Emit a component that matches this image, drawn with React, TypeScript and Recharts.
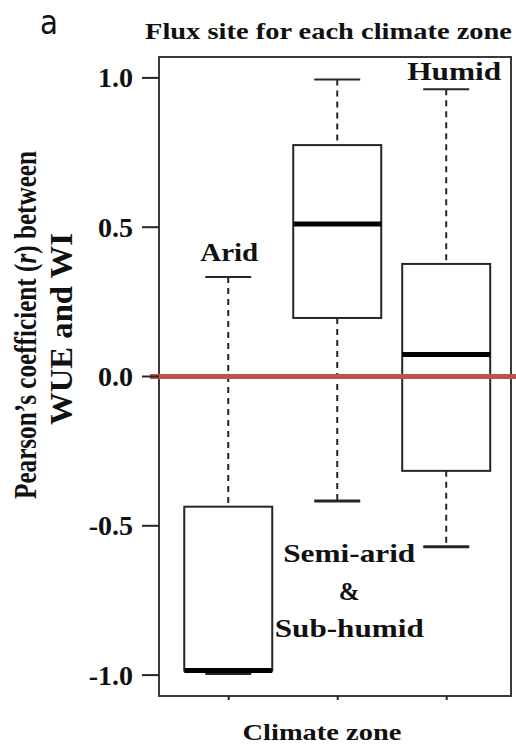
import {
  ComposedChart,
  Bar,
  XAxis,
  YAxis,
  ReferenceLine,
  ReferenceArea,
  Customized,
} from 'recharts';

// Pearson's r between WUE and WI per climate zone (box-and-whisker summary)
const zones = ['Arid', 'Semi-arid & Sub-humid', 'Humid'];
const zonePos = [1, 2, 3];
const whiskerLow = [-0.995, -0.417, -0.57];
const quartile1 = [-0.985, 0.196, -0.316];
const medians = [-0.985, 0.511, 0.074];
const quartile3 = [-0.436, 0.775, 0.377];
const whiskerHigh = [0.333, 0.995, 0.962];
const yTicks = [-1, -0.5, 0, 0.5, 1];

const X_DOMAIN: [number, number] = [0.36, 3.59];
const Y_DOMAIN: [number, number] = [-1.07, 1.07];

const SERIF = "'Liberation Serif', 'Times New Roman', serif";
const INK = '#262626';

const data = zones.map((zone, i) => ({
  zone,
  pos: zonePos[i],
  range: [whiskerLow[i], whiskerHigh[i]],
  low: whiskerLow[i],
  q1: quartile1[i],
  median: medians[i],
  q3: quartile3[i],
  high: whiskerHigh[i],
}));

// zone annotations, placed relative to a whisker end of each box
const zoneLabels = [
  { anchor: 'high', dx: 1, dy: -16, lines: ['Arid'], widths: [58] },
  { anchor: 'low', dx: 12, dy: 61, lines: ['Semi-arid', '&', 'Sub-humid'], widths: [132, 0, 149] },
  { anchor: 'high', dx: 8, dy: -9, lines: ['Humid'], widths: [94] },
];

function BoxShape(props: any) {
  const { x, y, width, height, payload, index } = props;
  const cx = x + width / 2;
  const topPx = Math.min(y, y + height);
  const botPx = Math.max(y, y + height);
  const span = payload.high - payload.low;
  const toPx = (v: number) => topPx + ((payload.high - v) / span) * (botPx - topPx);
  const boxW = 88;
  const capW = 46;
  const yHigh = toPx(payload.high);
  const yLow = toPx(payload.low);
  const yQ3 = toPx(payload.q3);
  const yQ1 = toPx(payload.q1);
  const yMed = toPx(payload.median);
  const lab = zoneLabels[index];
  const base = lab.anchor === 'high' ? yHigh : yLow;
  return (
    <g>
      <line x1={cx} x2={cx} y1={yHigh} y2={yQ3} stroke={INK} strokeWidth={2} strokeDasharray="6 5" />
      <line x1={cx} x2={cx} y1={yQ1} y2={yLow} stroke={INK} strokeWidth={2} strokeDasharray="6 5" />
      <line x1={cx - capW / 2} x2={cx + capW / 2} y1={yHigh} y2={yHigh} stroke={INK} strokeWidth={2} />
      <line x1={cx - capW / 2} x2={cx + capW / 2} y1={yLow} y2={yLow} stroke={INK} strokeWidth={3} />
      <rect
        x={cx - boxW / 2}
        y={yQ3}
        width={boxW}
        height={yQ1 - yQ3}
        fill="#fff"
        stroke={INK}
        strokeWidth={2}
      />
      <line x1={cx - boxW / 2} x2={cx + boxW / 2} y1={yMed} y2={yMed} stroke="#000" strokeWidth={5} />
      {lab.lines.map((t, k) => (
        <text
          key={t}
          x={cx + lab.dx}
          y={base + lab.dy + k * 37.5}
          textAnchor="middle"
          fontFamily={SERIF}
          fontWeight="bold"
          fontSize={25}
          fill="#111"
          {...(lab.widths[k] ? { textLength: lab.widths[k], lengthAdjust: 'spacingAndGlyphs' } : {})}
        >
          {t}
        </text>
      ))}
    </g>
  );
}

function YTick({ x, y, payload }: any) {
  return (
    <text
      x={x - 7}
      y={y}
      textAnchor="end"
      dominantBaseline="central"
      fontFamily={SERIF}
      fontWeight="bold"
      fontSize={28}
      fill="#111"
    >
      {Number(payload.value).toFixed(1)}
    </text>
  );
}

function RedZero(props: any) {
  const { x1, x2, y1 } = props;
  return <line x1={x1 - 9} x2={x2 + 6} y1={y1} y2={y1} stroke="#c0504d" strokeWidth={5} />;
}

function Titles() {
  return (
    <g fontFamily={SERIF} fontWeight="bold" fill="#111">
      <text
        x={40}
        y={34}
        fontFamily="'DejaVu Sans', sans-serif"
        fontWeight="normal"
        fontSize={34}
        textLength={18}
        lengthAdjust="spacingAndGlyphs"
      >
        a
      </text>
      <text x={145} y={39} fontSize={23} textLength={367} lengthAdjust="spacingAndGlyphs">
        Flux site for each climate zone
      </text>
      <text x={322} y={740} fontSize={23} textAnchor="middle" textLength={159} lengthAdjust="spacingAndGlyphs">
        Climate zone
      </text>
      <g transform="translate(36, 325) rotate(-90) scale(1, 1.25)">
        <text
          x={-174}
          y={0}
          fontSize={25}
          textLength={348}
          lengthAdjust="spacingAndGlyphs"
        >
          Pearson’s coefficient (<tspan fontStyle="italic">r</tspan>) between
        </text>
        <text
          x={-100}
          y={28.5}
          fontSize={25}
          textLength={192}
          lengthAdjust="spacingAndGlyphs"
        >
          WUE and WI
        </text>
      </g>
    </g>
  );
}

export default function App() {
  return (
    <div style={{ position: 'absolute', left: 0, top: 0, background: '#fff' }}>
      <ComposedChart
        width={516}
        height={744}
        data={data}
        margin={{ top: 57, right: 5, bottom: 0, left: 0 }}
      >
        <XAxis
          dataKey="pos"
          type="number"
          domain={X_DOMAIN}
          ticks={zonePos}
          allowDataOverflow
          height={48}
          axisLine={false}
          tickLine={{ stroke: INK, strokeWidth: 2 }}
          tickSize={4}
          tickFormatter={() => ''}
        />
        <YAxis
          type="number"
          domain={Y_DOMAIN}
          ticks={yTicks}
          allowDataOverflow
          width={159}
          axisLine={false}
          tickLine={{ stroke: INK, strokeWidth: 2 }}
          tickSize={17}
          tick={<YTick />}
        />
        <ReferenceArea
          x1={X_DOMAIN[0]}
          x2={X_DOMAIN[1]}
          y1={Y_DOMAIN[0]}
          y2={Y_DOMAIN[1]}
          fill="none"
          stroke="#3a3a3a"
          strokeWidth={2}
        />
        <Bar dataKey="range" barSize={88} shape={<BoxShape />} isAnimationActive={false} />
        <ReferenceLine y={0} shape={<RedZero />} />
        <Customized component={<Titles />} />
      </ComposedChart>
    </div>
  );
}
